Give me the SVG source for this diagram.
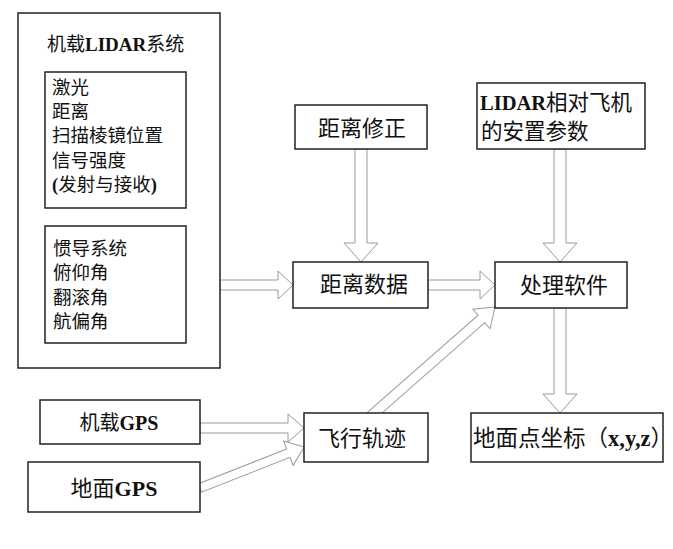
<svg xmlns="http://www.w3.org/2000/svg" width="673" height="549" viewBox="0 0 673 549">
<style>
.box{fill:#fff;stroke:#222;stroke-width:1.5}
.ar{fill:#fff;stroke:#9a9a9a;stroke-width:1}
.t{font-family:"Noto Sans CJK SC","Noto Sans",sans-serif;fill:#111}
.b{font-family:"Liberation Serif",serif;font-weight:bold}
</style>
<rect width="673" height="549" fill="#fff"/>
<g id="connectors">
<polygon class="ar" transform="translate(220,285)" points="0,-5 58,-5 58,-14 73,0 58,14 58,5 0,5"/>
<polygon class="ar" transform="translate(428,285)" points="0,-5 52,-5 52,-14 67,0 52,14 52,5 0,5"/>
<polygon class="ar" transform="translate(361,149) rotate(90)" points="0,-6 94,-6 94,-17 113,0 94,17 94,6 0,6"/>
<polygon class="ar" transform="translate(560,149) rotate(90)" points="0,-6 94,-6 94,-17 113,0 94,17 94,6 0,6"/>
<polygon class="ar" transform="translate(560,308) rotate(90)" points="0,-6 86,-6 86,-17 105,0 86,17 86,6 0,6"/>
<polygon class="ar" transform="translate(371,416) rotate(-41.3)" points="0,-5 147,-5 147,-13 165,0 147,13 147,5 0,5"/>
<polygon class="ar" transform="translate(200,428)" points="0,-5 88,-5 88,-14 104,0 88,14 88,5 0,5"/>
<polygon class="ar" transform="translate(200,488) rotate(-21.5)" points="0,-4.5 95,-4.5 95,-13 112,0 95,13 95,4.5 0,4.5"/>
</g>
<g id="lidar-system">
<rect class="box" x="18" y="13" width="202" height="355"/>
<text class="t" x="47" y="51" font-size="19">机载<tspan class="b">LIDAR</tspan>系统</text>
</g>
<g id="laser-box">
<rect class="box" x="45" y="72" width="141" height="136"/>
<text class="t" x="52" font-size="18.5">
<tspan x="52" y="94">激光</tspan>
<tspan x="52" y="118">距离</tspan>
<tspan x="52" y="142">扫描棱镜位置</tspan>
<tspan x="52" y="167">信号强度</tspan>
<tspan x="52" y="191"><tspan class="b">(</tspan>发射与接收<tspan class="b">)</tspan></tspan>
</text>
</g>
<g id="ins-box">
<rect class="box" x="45" y="226" width="141" height="117"/>
<text class="t" font-size="18.5">
<tspan x="53" y="255">惯导系统</tspan>
<tspan x="53" y="279">俯仰角</tspan>
<tspan x="53" y="304">翻滚角</tspan>
<tspan x="53" y="328">航偏角</tspan>
</text>
</g>
<g id="range-correction">
<rect class="box" x="295" y="105" width="132" height="44"/>
<text class="t" x="362" y="136" font-size="22" text-anchor="middle">距离修正</text>
</g>
<g id="mount-params">
<rect class="box" x="477" y="83" width="168" height="66"/>
<text class="t" x="480" y="110" font-size="21.5"><tspan class="b" font-size="20.5">LIDAR</tspan>相对飞机</text>
<text class="t" x="481" y="139" font-size="21.5">的安置参数</text>
</g>
<g id="range-data">
<rect class="box" x="293" y="262" width="135" height="46"/>
<text class="t" x="364" y="292" font-size="22" text-anchor="middle">距离数据</text>
</g>
<g id="software">
<rect class="box" x="495" y="262" width="132" height="46"/>
<text class="t" x="564" y="293" font-size="22" text-anchor="middle">处理软件</text>
</g>
<g id="airborne-gps">
<rect class="box" x="40" y="400" width="160" height="44"/>
<text class="t" x="119" y="430" font-size="20" text-anchor="middle">机载<tspan class="b">GPS</tspan></text>
</g>
<g id="ground-gps">
<rect class="box" x="28" y="462" width="172" height="50"/>
<text class="t" x="114" y="496" font-size="22" text-anchor="middle">地面<tspan class="b">GPS</tspan></text>
</g>
<g id="trajectory">
<rect class="box" x="304" y="413" width="124" height="49"/>
<text class="t" x="362" y="446" font-size="22" text-anchor="middle">飞行轨迹</text>
</g>
<g id="ground-coords">
<rect class="box" x="471" y="413" width="192" height="49"/>
<text class="t" x="473" y="446" font-size="22.5">地面点坐标（<tspan class="b">x,y,z</tspan>）</text>
</g>
</svg>
